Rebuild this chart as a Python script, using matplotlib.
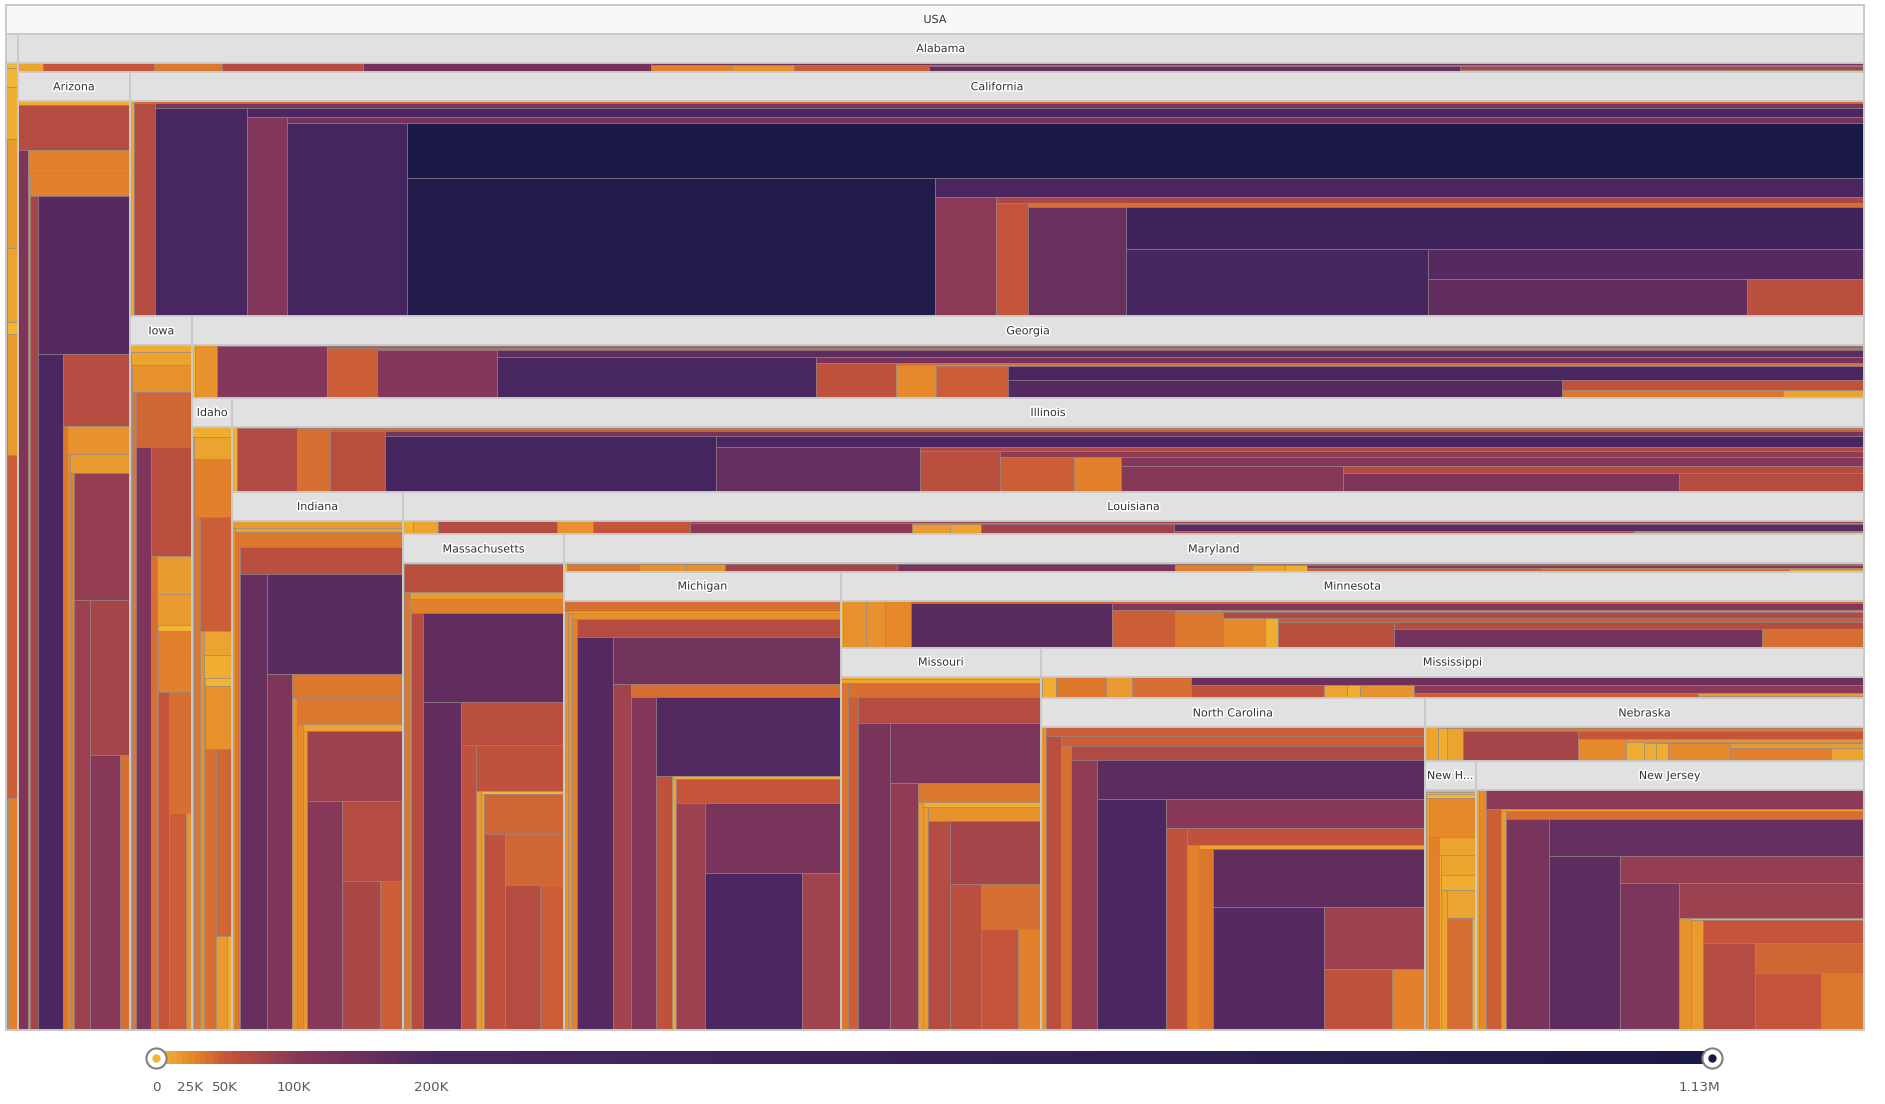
import matplotlib
matplotlib.use("Agg")
import matplotlib.pyplot as plt
import matplotlib.patheffects as pe
import matplotlib.transforms as mtransforms
from matplotlib.patches import Rectangle
from matplotlib.colors import LinearSegmentedColormap
import numpy as np

# tree of states, in data order (first child = small one, second = big one)
states = ["USA", "Alaska", "Alabama", "Arizona", "California", "Iowa", "Georgia",
          "Idaho", "Illinois", "Indiana", "Louisiana", "Massachusetts", "Maryland",
          "Michigan", "Minnesota", "Missouri", "Mississippi", "North Carolina",
          "Nebraska", "New Hampshire", "New Jersey"]
parents = [None, "USA", "USA", "Alabama", "Alabama", "California", "California",
           "Georgia", "Georgia", "Illinois", "Illinois", "Louisiana", "Louisiana",
           "Maryland", "Maryland", "Minnesota", "Minnesota", "Mississippi",
           "Mississippi", "Nebraska", "Nebraska"]

# county values per state, in thousands, data order
alaska = [0.8, 0.3, 2.7, 0.3, 7.7, 12, 14.6, 0.5, 10, 0.5, 1.5, 0.5, 16, 0.5, 45, 0.5, 30]
alabama = [12, 1, 52, 1, 32, 1, 66, 1, 135, 135, 29, 1, 22, 1, 48, 50, 160, 78, 28, 1, 15]
arizona = [6, 1, 64, 118, 30, 23, 29, 79, 185, 215, 62, 32, 22, 23, 15, 30, 90, 86, 79, 103, 37]
california = [12, 37, 63, 120, 268, 205, 111, 133, 325, 1130, 1018, 248, 101, 73, 50, 36,
              151, 436, 285, 184, 166, 61]
iowa = [5.6, 10, 10, 1, 21, 33, 40, 115, 58, 38, 17, 1, 14, 1, 2.4, 1, 27, 50, 36, 45, 19]
georgia = [3, 3, 22, 32, 108, 59, 48, 43, 110, 175, 252, 130, 53, 37, 25, 9, 45, 240,
           187, 57, 33, 12]
idaho = [5, 15, 11, 1, 28, 34, 48, 22, 9, 3, 8, 2, 3, 1, 22, 38, 40, 14, 6]
illinois = [6, 29, 68, 36, 37, 47, 60, 132, 330, 225, 163, 69, 58, 94, 46, 1, 29, 108,
            105, 66, 116, 64]
indiana = [16, 20, 9, 1, 31, 32, 59, 155, 178, 116, 35, 22, 35, 24, 10, 16, 88, 105, 63, 74, 45]
louisiana = [5, 1, 13, 1, 62, 2, 19, 2, 50, 80, 100, 30, 16, 2, 13, 3, 80, 180, 70, 15, 12, 8]
massachusetts = [0.5, 5, 60, 35, 14, 3, 27, 66, 165, 165, 58, 53, 53, 16, 3, 9, 42, 55, 40, 66, 46]
maryland = [1.4, 1, 33, 1, 21, 1, 18, 2, 78, 3, 125, 40, 30, 5, 13, 2, 8, 105, 45, 10, 40, 12]
michigan = [36, 22, 9.7, 22, 21, 27, 62, 187, 141, 82, 36, 106, 192, 54, 7.8, 13, 52, 87,
            125, 200, 81]
minnesota = [2, 1, 21, 1, 18, 1, 24, 38, 180, 110, 47, 27, 34, 70, 25, 2, 7.5, 46, 60, 64, 140, 39]
missouri = [7, 1, 9, 33, 36, 45, 64, 128, 120, 93, 31, 15, 8, 15, 21, 62, 77, 59, 36, 51, 30]
mississippi = [1, 1, 8.8, 1, 31, 1, 16, 1, 37, 150, 53, 2, 9, 1, 5, 1, 21, 100, 48, 14, 12, 2]
north_carolina = [21, 46, 60, 45, 38, 67, 95, 174, 216, 102, 57, 55, 30, 12, 34, 167, 184,
                  84, 56, 27]
nebraska = [10, 1, 7, 1, 12, 35, 78, 50, 24, 18, 8, 1, 5, 1, 5, 3, 25, 14, 30, 10]
new_hampshire = [1.4, 0.5, 1.7, 0.5, 2.5, 10, 25, 28, 9, 5, 9.6, 0.5, 7, 11, 11, 38, 6]
new_jersey = [10, 1, 23, 100, 46, 10, 15, 38, 125, 162, 171, 92, 120, 87, 19, 6, 17, 52,
              63, 44, 52, 34]

leaves = {"USA": [], "Alaska": alaska, "Alabama": alabama, "Arizona": arizona,
          "California": california, "Iowa": iowa, "Georgia": georgia, "Idaho": idaho,
          "Illinois": illinois, "Indiana": indiana, "Louisiana": louisiana,
          "Massachusetts": massachusetts, "Maryland": maryland, "Michigan": michigan,
          "Minnesota": minnesota, "Missouri": missouri, "Mississippi": mississippi,
          "North Carolina": north_carolina, "Nebraska": nebraska,
          "New Hampshire": new_hampshire, "New Jersey": new_jersey}

# colour scale stops (thousands) and legend labels
scale_vals = [0, 25, 50, 100, 200, 1130]
scale_cols = ["#f1b634", "#e4832a", "#c3533b", "#883859", "#4b2761", "#1b1947"]
tick_labels = ["0", "25K", "50K", "100K", "200K", "1.13M"]

W, H = 1885, 1104
HDR = 29  # header height in px

vmax = scale_vals[-1]
cmap = LinearSegmentedColormap.from_list(
    "heat", list(zip(np.array(scale_vals) / vmax, scale_cols)))

fig = plt.figure(figsize=(W / 100, H / 100), dpi=100)
ax = fig.add_axes([0, 0, 1, 1])
ax.set_xlim(0, W)
ax.set_ylim(H, 0)
ax.axis("off")

children = {s: [c for c, p in zip(states, parents) if p == s] for s in states}


def total(s):
    return sum(leaves[s]) + sum(total(c) for c in children[s])


def spiral(vals, x0, y0, x1, y1):
    # strips alternate column / row, first one across the short side
    vert = (x1 - x0) >= (y1 - y0)
    rest = float(sum(vals))
    for i, v in enumerate(vals):
        if i == len(vals) - 1:
            r = (x0, y0, x1, y1)
        elif vert:
            w = (x1 - x0) * v / rest
            r = (x0, y0, x0 + w, y1)
            x0 += w
        else:
            h = (y1 - y0) * v / rest
            r = (x0, y0, x1, y0 + h)
            y0 += h
        rest -= v
        vert = not vert
        ax.add_patch(Rectangle((r[0], r[1]), r[2] - r[0], r[3] - r[1],
                               facecolor=cmap(v / vmax), edgecolor=(0.55, 0.5, 0.52, 0.55),
                               lw=0.7, zorder=2))


heads = []
outlines = []


def draw_node(s, x0, y0, x1, y1, root=False):
    heads.append((s, x0, y0, x1, root))
    outlines.append((x0, y0, x1, y1))
    kids = children[s]
    items = [sum(leaves[s])] + [total(c) for c in kids]
    names = [None] + kids
    cx0, cy0 = x0, (y0 + HDR if root else y0)
    rest = float(sum(items))
    horiz = True  # own counties first, as a band on top
    for i, (nm, v) in enumerate(zip(names, items)):
        if i == len(items) - 1:
            r = (cx0, cy0, x1, y1)
        elif horiz:
            h = (y1 - cy0) * v / rest
            r = (cx0, cy0, x1, cy0 + h)
            cy0 += h
        else:
            w = (x1 - cx0) * v / rest
            r = (cx0, cy0, cx0 + w, y1)
            cx0 += w
        rest -= v
        horiz = not horiz
        if nm is None:
            if v > 0:
                spiral(leaves[s], r[0], r[1] + (0 if root else HDR), r[2], r[3])
        else:
            draw_node(nm, *r)


draw_node("USA", 6, 5, 1864, 1030, root=True)

for x0, y0, x1, y1 in outlines:
    ax.add_patch(Rectangle((x0, y0), x1 - x0, y1 - y0, fill=False,
                           edgecolor="#c9c9c9", lw=1.3, zorder=3))

renderer = fig.canvas.get_renderer()
for name, x0, y0, x1, root in heads:
    ax.add_patch(Rectangle((x0, y0), x1 - x0, HDR, facecolor="#f8f8f8" if root else "#e1e1e1",
                           edgecolor="#c9c9c9", lw=1.3, zorder=4))
    t = ax.text((x0 + x1) / 2, y0 + HDR / 2 + 0.5, name, ha="center", va="center",
                fontsize=8, color="#333333", zorder=5,
                path_effects=[pe.withStroke(linewidth=2.2, foreground="white")])
    # shorten the label when it does not fit in the header
    for k in range(len(name), -1, -1):
        label = name if k == len(name) else (name[:k].rstrip() + "..." if k > 0 else "")
        t.set_text(label)
        if t.get_window_extent(renderer).width <= (x1 - x0) - 2:
            break

# colour range bar
cb = fig.add_axes([156 / W, 1 - 1064 / H, 1556 / W, 13 / H])
cb.imshow(np.linspace(0, vmax, 600)[None, :], extent=(0, vmax, 0, 1), aspect="auto",
          cmap=cmap, vmin=0, vmax=vmax)
cb.set_xlim(0, vmax)
cb.set_ylim(0, 1)
cb.set_yticks([])
cb.set_xticks(scale_vals)
cb.set_xticklabels(tick_labels)
cb.tick_params(axis="x", length=0, pad=12, labelsize=9.7, labelcolor="#5a5a5a")
last = cb.get_xticklabels()[-1]
last.set_horizontalalignment("right")
last.set_transform(last.get_transform() + mtransforms.ScaledTranslation(8 / 100, 0, fig.dpi_scale_trans))
for sp in cb.spines.values():
    sp.set_visible(False)
for val in (0, vmax):
    cb.plot([val], [0.5], "o", ms=14.5, mfc="white", mec="#808080", mew=1.5,
            clip_on=False, zorder=5)
    cb.plot([val], [0.5], "o", ms=6, mfc=cmap(val / vmax), mec="none",
            clip_on=False, zorder=6)

fig.savefig("out.png", dpi=100)
